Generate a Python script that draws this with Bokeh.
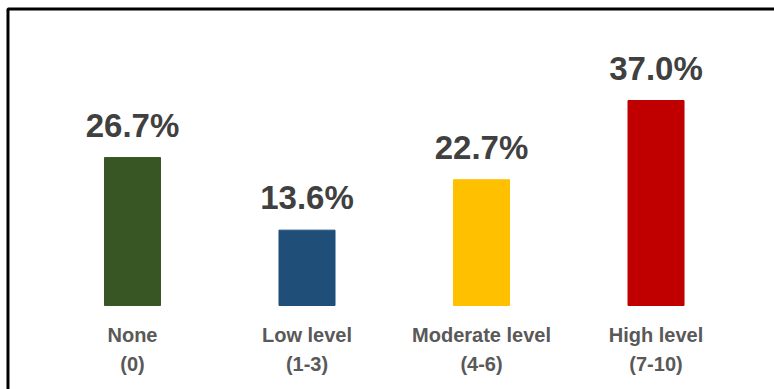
from bokeh.plotting import figure
from bokeh.models import ColumnDataSource, Range1d
from bokeh.core.properties import value
from bokeh.embed import file_html
from bokeh.resources import INLINE

# Data
categories = ["None", "Low level", "Moderate level", "High level"]
ranges_txt = ["(0)", "(1-3)", "(4-6)", "(7-10)"]
percentages = [26.7, 13.6, 22.7, 37.0]
colors = ["#375623", "#1f4e79", "#ffc000", "#c00000"]

xpos = list(range(len(categories)))
src = ColumnDataSource(dict(
    x=xpos,
    pct=percentages,
    lbl=[f"{v:.1f}%" for v in percentages],
    cat=categories,
    rng=ranges_txt,
    color=colors,
    zero=[0] * len(categories),
))

p = figure(width=774, height=389, output_backend="svg", toolbar_location=None,
           x_range=Range1d(-0.7564, 3.679), y_range=Range1d(-15.16, 55.05),
           min_border_left=0, min_border_right=0, min_border_top=0, min_border_bottom=0)
p.axis.visible = False
p.grid.visible = False
p.outline_line_color = None
p.background_fill_color = "white"
p.border_fill_color = "white"

# chart frame border (top & left visible, others run off the page)
p.quad(left=[-0.7135], right=[10], top=[53.52], bottom=[-100],
       fill_color=None, line_color="black", line_width=3)

p.vbar(x="x", top="pct", bottom="zero", width=0.321, color="color", source=src)

font = value("Liberation Sans")
p.text(x="x", y="pct", text="lbl", source=src, text_align="center",
       text_baseline="bottom", y_offset=-14, text_font=font,
       text_font_style="bold", text_font_size="33px", text_color="#404040")
p.text(x="x", y="zero", text="cat", source=src, text_align="center",
       text_baseline="top", y_offset=18, text_font=font,
       text_font_style="bold", text_font_size="20px", text_color="#595959")
p.text(x="x", y="zero", text="rng", source=src, text_align="center",
       text_baseline="top", y_offset=47, text_font=font,
       text_font_style="bold", text_font_size="20px", text_color="#595959")

open("out.html", "w").write(file_html(p, INLINE))
